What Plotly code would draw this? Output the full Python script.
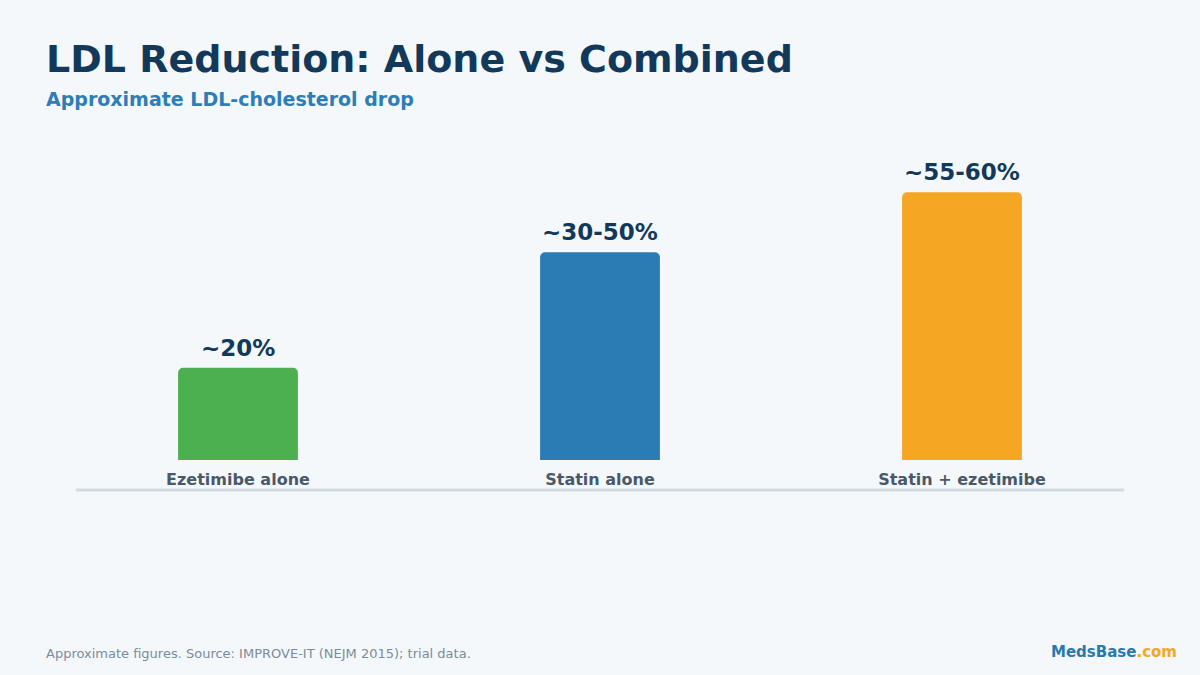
import plotly.graph_objects as go

categories = ["Ezetimibe alone", "Statin alone", "Statin + ezetimibe"]
values = [20, 45, 58]
value_labels = ["~20%", "~30-50%", "~55-60%"]
bar_colors = ["#4caf50", "#2b7bb4", "#f5a623"]

title_text = "LDL Reduction: Alone vs Combined"
subtitle_text = "Approximate LDL-cholesterol drop"
footer_text = "Approximate figures. Source: IMPROVE-IT (NEJM 2015); trial data."

BG = "#f4f8fb"
FONT = "DejaVu Sans"

ML, MR, MT, MB = 57, 57, 137, 215
W, H = 1200, 675


def px_to_paper_x(px):
    return (px - ML) / (W - ML - MR)


def px_to_paper_y(py):
    return (H - MB - py) / (H - MT - MB)


fig = go.Figure()
fig.add_trace(go.Bar(
    x=categories,
    y=values,
    marker=dict(color=bar_colors, line=dict(width=0), cornerradius=5),
    width=0.331,
    hoverinfo="skip",
))

annotations = []
for c, v, t in zip(categories, values, value_labels):
    annotations.append(dict(
        x=c, y=v, text=f"<b>{t}</b>", showarrow=False,
        yanchor="bottom", yshift=5,
        font=dict(family=FONT, size=23, color="#12395a"),
    ))

annotations.append(dict(
    xref="paper", yref="paper", x=px_to_paper_x(44), y=px_to_paper_y(59),
    text=f"<b>{title_text}</b>", showarrow=False,
    xanchor="left", yanchor="middle",
    font=dict(family=FONT, size=38, color="#12395a"),
))
annotations.append(dict(
    xref="paper", yref="paper", x=px_to_paper_x(44), y=px_to_paper_y(99),
    text=f"<b>{subtitle_text}</b>", showarrow=False,
    xanchor="left", yanchor="middle",
    font=dict(family=FONT, size=19, color="#2e7db5"),
))
annotations.append(dict(
    xref="paper", yref="paper", x=px_to_paper_x(44), y=px_to_paper_y(653),
    text=footer_text, showarrow=False,
    xanchor="left", yanchor="middle",
    font=dict(family=FONT, size=13, color="#7b8b9a"),
))
annotations.append(dict(
    xref="paper", yref="paper", x=px_to_paper_x(1179), y=px_to_paper_y(652),
    text="<b><span style='color:#2a78b0'>MedsBase</span><span style='color:#f5a623'>.com</span></b>",
    showarrow=False, xanchor="right", yanchor="middle",
    font=dict(family=FONT, size=15, color="#2a78b0"),
))

fig.update_layout(
    width=W, height=H,
    paper_bgcolor=BG, plot_bgcolor=BG,
    margin=dict(l=ML, r=MR, t=MT, b=MB),
    showlegend=False,
    xaxis=dict(
        showgrid=False, zeroline=False, showline=False, ticks="",
        tickfont=dict(family=FONT, size=16, color="#4a5868"),
        ticklabelstandoff=8,
        range=[-0.5, 2.5],
        tickvals=categories,
        ticktext=[f"<b>{c}</b>" for c in categories],
        fixedrange=True,
    ),
    yaxis=dict(
        range=[0, 70], visible=False, showgrid=False, zeroline=False,
        fixedrange=True,
    ),
    annotations=annotations,
    shapes=[dict(
        type="line", xref="paper", yref="paper",
        x0=px_to_paper_x(76), x1=px_to_paper_x(1124),
        y0=px_to_paper_y(490), y1=px_to_paper_y(490),
        line=dict(color="#d0dae3", width=3),
    )],
)

fig.write_html("out.html")
